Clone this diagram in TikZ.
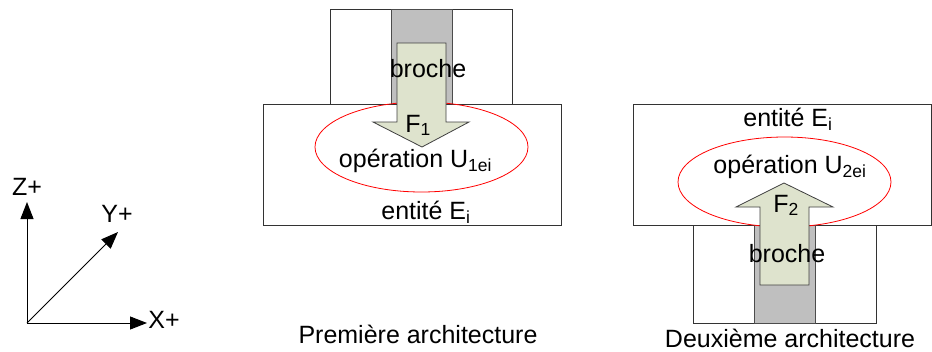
\documentclass[tikz,border=0pt]{standalone}
\usepackage{fontspec}
\setmainfont{Liberation Sans}
\usetikzlibrary{arrows.meta}
\begin{document}
\begin{tikzpicture}[x=1pt,y=-1pt,
  frame/.style={draw=black!80,line width=0.8pt,fill=white},
  pin/.style={draw=black!70,line width=0.8pt,fill=black!25},
  force/.style={draw=black!75,line width=0.8pt,fill=forcefill},
  zone/.style={draw=red,line width=0.8pt},
  lbl/.style={anchor=base,inner sep=0pt,font=\fontsize{25}{29}\selectfont},
  axis/.style={line width=1pt,-{Triangle[length=17pt,width=13pt]}}]
\definecolor{forcefill}{HTML}{DEE3CD}
\useasboundingbox (0,0) rectangle (932,351);
% ---------- first architecture
\draw[frame] (330,9) rectangle (512,104);
\draw[pin] (391,9) rectangle (452,104);
\draw[frame] (263,104) rectangle (561,225);
\draw[zone] (421.5,147) ellipse [x radius=106.5,y radius=45];
\draw[force] (397,43) -- (446,43) -- (446,122) -- (469,122) -- (422,147) -- (373,122) -- (397,122) -- cycle;
\node[lbl] (b1) at (428,77) {broche};
\node[lbl] (f1) at (418,132) {F\textsubscript{1}};
\node[lbl] (u1) at (415.5,167) {opération U\textsubscript{1ei}};
\node[lbl] (e1) at (426,219) {entité E\textsubscript{i}};
\node[lbl] (t1) at (418,343) {Première architecture};
% ---------- second architecture
\draw[frame] (633,104) rectangle (931,225);
\draw[frame] (693,225) rectangle (876,323);
\draw[pin] (754,225) rectangle (815,323);
\draw[zone] (784.5,182) ellipse [x radius=106.5,y radius=45];
\draw[force] (760,285) -- (809,285) -- (809,207) -- (833,207) -- (784,183) -- (736,207) -- (760,207) -- cycle;
\node[lbl] (e2) at (788,126) {entité E\textsubscript{i}};
\node[lbl] (u2) at (790,173) {opération U\textsubscript{2ei}};
\node[lbl] (f2) at (786,212) {F\textsubscript{2}};
\node[lbl] (b2) at (787,262) {broche};
\node[lbl] (t2) at (790,347) {Deuxième architecture};
% ---------- axes
\coordinate (o) at (27,323);
\coordinate (zt) at (27,202);
\coordinate (xt) at (147,323);
\coordinate (yt) at (118,232);
\draw[axis] (o) -- (zt);
\draw[axis] (o) -- (xt);
\draw[axis] (o) -- (yt);
\node[lbl] (zl) at (27,195) {Z+};
\node[lbl] (yl) at (117,222) {Y+};
\node[lbl] (xl) at (164,328) {X+};
\end{tikzpicture}
\end{document}
